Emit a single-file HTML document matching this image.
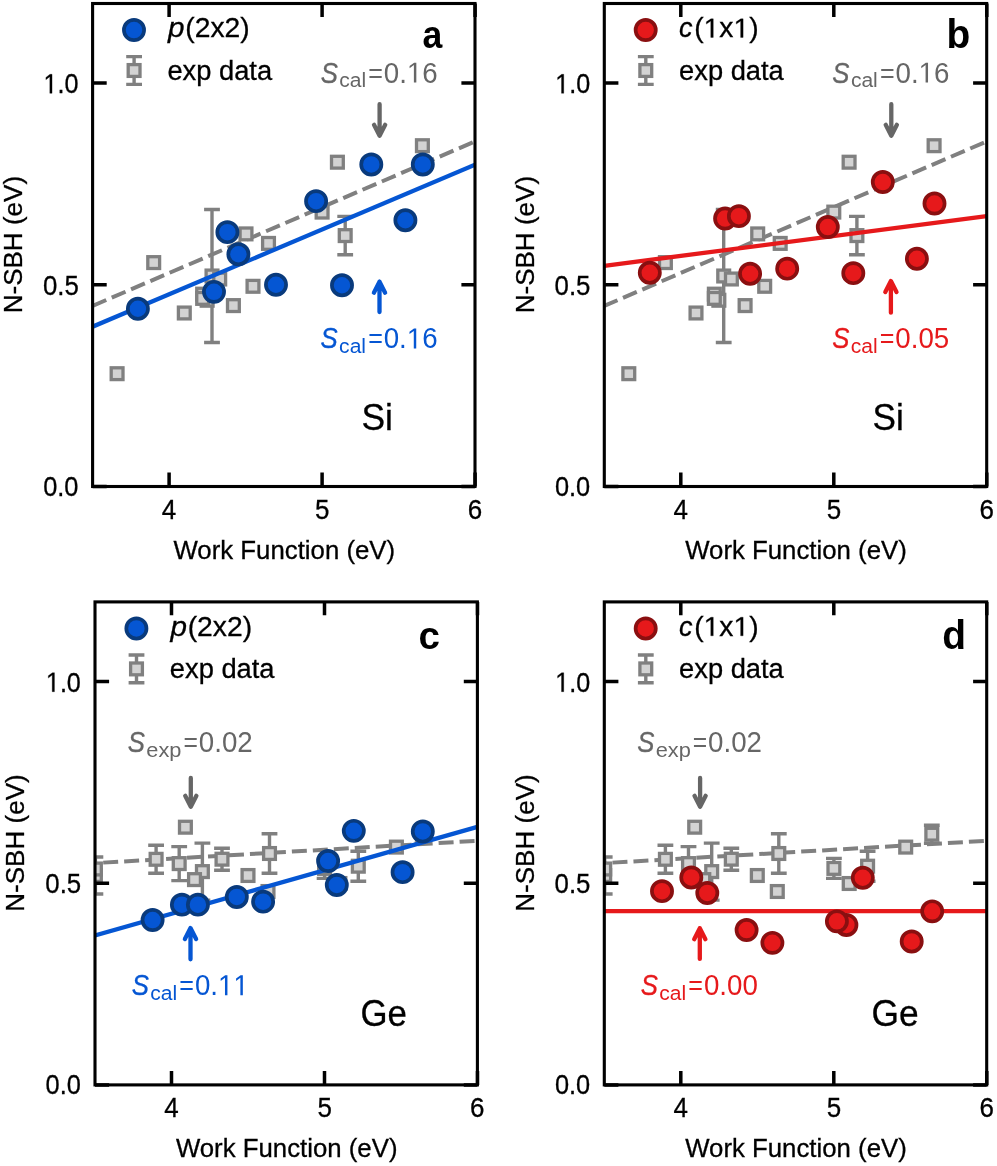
<!DOCTYPE html><html><head><meta charset="utf-8"><style>html,body{margin:0;padding:0;background:#fff;}svg{display:block;will-change:transform;}text{font-family:"Liberation Sans",sans-serif;}</style></head><body>
<svg width="997" height="1166" viewBox="0 0 997 1166">
<defs><clipPath id="clip"><rect x="0" y="0" width="382.4" height="483.0"/></clipPath></defs>
<rect width="997" height="1166" fill="#fff"/>
<g transform="translate(92.6,3.5)">
<g clip-path="url(#clip)">
<line x1="0" y1="302.4" x2="382.4" y2="137.9" stroke="#808080" stroke-width="4.0" stroke-dasharray="15.0 6.0" stroke-dashoffset="0.15"/>
<path d="M119.40 206.00V339.00M111.50 206.00H127.30M111.50 339.00H127.30" stroke="#808080" stroke-width="3.4" fill="none"/>
<path d="M252.60 212.90V251.30M244.70 212.90H260.50M244.70 251.30H260.50" stroke="#808080" stroke-width="3.4" fill="none"/>
<rect x="18.60" y="364.30" width="11.8" height="11.8" fill="#d3d3d3" stroke="#808080" stroke-width="3.3"/>
<rect x="55.20" y="253.20" width="11.8" height="11.8" fill="#d3d3d3" stroke="#808080" stroke-width="3.3"/>
<rect x="85.80" y="303.60" width="11.8" height="11.8" fill="#d3d3d3" stroke="#808080" stroke-width="3.3"/>
<rect x="104.15" y="284.75" width="11.8" height="11.8" fill="#d3d3d3" stroke="#808080" stroke-width="3.3"/>
<rect x="108.65" y="290.85" width="11.8" height="11.8" fill="#d3d3d3" stroke="#808080" stroke-width="3.3"/>
<rect x="104.15" y="289.00" width="11.8" height="11.8" fill="#d3d3d3" stroke="#808080" stroke-width="3.3"/>
<rect x="113.50" y="266.60" width="11.8" height="11.8" fill="#d3d3d3" stroke="#808080" stroke-width="3.3"/>
<rect x="121.20" y="269.60" width="11.8" height="11.8" fill="#d3d3d3" stroke="#808080" stroke-width="3.3"/>
<rect x="134.90" y="296.20" width="11.8" height="11.8" fill="#d3d3d3" stroke="#808080" stroke-width="3.3"/>
<rect x="147.50" y="224.50" width="11.8" height="11.8" fill="#d3d3d3" stroke="#808080" stroke-width="3.3"/>
<rect x="154.50" y="276.90" width="11.8" height="11.8" fill="#d3d3d3" stroke="#808080" stroke-width="3.3"/>
<rect x="170.00" y="234.00" width="11.8" height="11.8" fill="#d3d3d3" stroke="#808080" stroke-width="3.3"/>
<rect x="223.60" y="202.70" width="11.8" height="11.8" fill="#d3d3d3" stroke="#808080" stroke-width="3.3"/>
<rect x="238.90" y="152.80" width="11.8" height="11.8" fill="#d3d3d3" stroke="#808080" stroke-width="3.3"/>
<rect x="246.70" y="226.20" width="11.8" height="11.8" fill="#d3d3d3" stroke="#808080" stroke-width="3.3"/>
<rect x="323.90" y="136.30" width="11.8" height="11.8" fill="#d3d3d3" stroke="#808080" stroke-width="3.3"/>
<line x1="0" y1="323.2" x2="382.4" y2="161.2" stroke="#0556d3" stroke-width="4.3"/>
<circle cx="45.30" cy="305.25" r="10.1" fill="#0556d3" stroke="#093a7c" stroke-width="3.7"/>
<circle cx="121.40" cy="288.35" r="10.1" fill="#0556d3" stroke="#093a7c" stroke-width="3.7"/>
<circle cx="134.80" cy="228.65" r="10.1" fill="#0556d3" stroke="#093a7c" stroke-width="3.7"/>
<circle cx="145.80" cy="250.75" r="10.1" fill="#0556d3" stroke="#093a7c" stroke-width="3.7"/>
<circle cx="183.40" cy="281.25" r="10.1" fill="#0556d3" stroke="#093a7c" stroke-width="3.7"/>
<circle cx="223.50" cy="197.65" r="10.1" fill="#0556d3" stroke="#093a7c" stroke-width="3.7"/>
<circle cx="249.40" cy="281.75" r="10.1" fill="#0556d3" stroke="#093a7c" stroke-width="3.7"/>
<circle cx="278.70" cy="160.95" r="10.1" fill="#0556d3" stroke="#093a7c" stroke-width="3.7"/>
<circle cx="312.80" cy="216.75" r="10.1" fill="#0556d3" stroke="#093a7c" stroke-width="3.7"/>
<circle cx="330.20" cy="160.95" r="10.1" fill="#0556d3" stroke="#093a7c" stroke-width="3.7"/>
</g>
<path d="M0 483.00H14.1M382.4 483.00H368.80M0 281.25H14.1M382.4 281.25H368.80M0 79.50H14.1M382.4 79.50H368.80M76.50 483.0V469.10M76.50 0V13.4M229.50 483.0V469.10M229.50 0V13.4M382.50 483.0V469.10M382.50 0V13.4" stroke="#000" stroke-width="3.5" fill="none"/>
<rect x="0" y="0" width="382.4" height="483.0" fill="none" stroke="#000" stroke-width="3.1"/>
<circle cx="41.40" cy="26.55" r="10.1" fill="#0556d3" stroke="#093a7c" stroke-width="3.7"/>
<path d="M41.50 53.10V80.90M33.60 53.10H49.40M33.60 80.90H49.40" stroke="#808080" stroke-width="3.4" fill="none"/><rect x="35.60" y="61.10" width="11.8" height="11.8" fill="#d3d3d3" stroke="#808080" stroke-width="3.3"/>
</g>
<path transform="translate(43.48 93.30) scale(0.01230 -0.01348)" d="M515 0L515 1237L197 1010L197 1180L530 1409L696 1409L696 0Z" fill="#000" stroke="#000" stroke-width="0.3" vector-effect="non-scaling-stroke"/><text x="57.48" y="93.30" font-size="27.6" fill="#000" textLength="21.00" lengthAdjust="spacingAndGlyphs" stroke="#000" stroke-width="0.3">.0</text>
<text x="42.89" y="294.90" font-size="27.6" fill="#000" textLength="35.89" lengthAdjust="spacingAndGlyphs" stroke="#000" stroke-width="0.3">0.5</text>
<text x="43.21" y="496.00" font-size="27.6" fill="#000" textLength="35.28" lengthAdjust="spacingAndGlyphs" stroke="#000" stroke-width="0.3">0.0</text>
<text x="161.85" y="519.00" font-size="27.6" fill="#000" textLength="14.46" lengthAdjust="spacingAndGlyphs" stroke="#000" stroke-width="0.3">4</text>
<text x="315.00" y="519.00" font-size="27.6" fill="#000" textLength="14.46" lengthAdjust="spacingAndGlyphs" stroke="#000" stroke-width="0.3">5</text>
<text x="467.68" y="519.00" font-size="27.6" fill="#000" textLength="14.46" lengthAdjust="spacingAndGlyphs" stroke="#000" stroke-width="0.3">6</text>
<text x="173.49" y="558.80" font-size="26" fill="#000" textLength="221.61" lengthAdjust="spacingAndGlyphs" stroke="#000" stroke-width="0.3">Work Function (eV)</text>
<text x="168.14" y="37.40" font-size="27" font-style="italic" fill="#000" textLength="16.52" lengthAdjust="spacingAndGlyphs" stroke="#000" stroke-width="0.3">p</text>
<text x="185.25" y="37.40" font-size="27" fill="#000" textLength="64.41" lengthAdjust="spacingAndGlyphs" stroke="#000" stroke-width="0.3">(2x2)</text>
<text x="167.44" y="79.70" font-size="27" fill="#000" textLength="104.66" lengthAdjust="spacingAndGlyphs" stroke="#000" stroke-width="0.3">exp data</text>
<text x="422.46" y="47.90" font-size="39" font-weight="bold" fill="#000" textLength="19.82" lengthAdjust="spacingAndGlyphs">a</text>
<text transform="translate(22.00,313.34) rotate(-90)" x="0" y="0" font-size="26" fill="#000" textLength="137.45" lengthAdjust="spacingAndGlyphs" stroke="#000" stroke-width="0.3">N-SBH (eV)</text>
<text x="320.67" y="82.60" font-size="30" font-style="italic" fill="#666666" textLength="17.21" lengthAdjust="spacingAndGlyphs" stroke="#666666" stroke-width="0.35">S</text>
<text x="339.21" y="87.20" font-size="20" fill="#666666" textLength="26.90" lengthAdjust="spacingAndGlyphs">cal</text>
<text x="368.27" y="82.60" font-size="27.5" fill="#666666" textLength="14.66" lengthAdjust="spacingAndGlyphs">=</text>
<text x="383.82" y="82.60" font-size="29" fill="#666666" textLength="23.10" lengthAdjust="spacingAndGlyphs">0.</text><path transform="translate(406.92 82.60) scale(0.01352 -0.01416)" d="M515 0L515 1237L197 1010L197 1180L530 1409L696 1409L696 0Z" fill="#666666"/><text x="422.32" y="82.60" font-size="29" fill="#666666" textLength="15.40" lengthAdjust="spacingAndGlyphs">6</text>
<path d="M379.60 104.20V135.80M374.00 124.80L379.60 135.80L385.20 124.80" stroke="#666666" stroke-width="4.3" fill="none" stroke-linecap="round" stroke-linejoin="round"/>
<text x="320.57" y="348.40" font-size="30" font-style="italic" fill="#0556d3" textLength="17.21" lengthAdjust="spacingAndGlyphs" stroke="#0556d3" stroke-width="0.35">S</text>
<text x="339.11" y="353.00" font-size="20" fill="#0556d3" textLength="26.90" lengthAdjust="spacingAndGlyphs">cal</text>
<text x="368.17" y="348.40" font-size="27.5" fill="#0556d3" textLength="14.66" lengthAdjust="spacingAndGlyphs">=</text>
<text x="383.72" y="348.40" font-size="29" fill="#0556d3" textLength="23.10" lengthAdjust="spacingAndGlyphs">0.</text><path transform="translate(406.82 348.40) scale(0.01352 -0.01416)" d="M515 0L515 1237L197 1010L197 1180L530 1409L696 1409L696 0Z" fill="#0556d3"/><text x="422.22" y="348.40" font-size="29" fill="#0556d3" textLength="15.40" lengthAdjust="spacingAndGlyphs">6</text>
<path d="M379.50 312.10V281.70M373.90 292.70L379.50 281.70L385.10 292.70" stroke="#0556d3" stroke-width="4.3" fill="none" stroke-linecap="round" stroke-linejoin="round"/>
<text x="361.39" y="429.80" font-size="36.3" fill="#000" textLength="31.50" lengthAdjust="spacingAndGlyphs" stroke="#000" stroke-width="0.3">Si</text>
<g transform="translate(604.3,3.5)">
<g clip-path="url(#clip)">
<line x1="0" y1="302.4" x2="382.4" y2="137.9" stroke="#808080" stroke-width="4.0" stroke-dasharray="15.0 6.0" stroke-dashoffset="0.64"/>
<path d="M119.40 206.00V339.00M111.50 206.00H127.30M111.50 339.00H127.30" stroke="#808080" stroke-width="3.4" fill="none"/>
<path d="M252.60 212.90V251.30M244.70 212.90H260.50M244.70 251.30H260.50" stroke="#808080" stroke-width="3.4" fill="none"/>
<rect x="18.60" y="364.30" width="11.8" height="11.8" fill="#d3d3d3" stroke="#808080" stroke-width="3.3"/>
<rect x="55.20" y="253.20" width="11.8" height="11.8" fill="#d3d3d3" stroke="#808080" stroke-width="3.3"/>
<rect x="85.80" y="303.60" width="11.8" height="11.8" fill="#d3d3d3" stroke="#808080" stroke-width="3.3"/>
<rect x="104.15" y="284.75" width="11.8" height="11.8" fill="#d3d3d3" stroke="#808080" stroke-width="3.3"/>
<rect x="108.65" y="290.85" width="11.8" height="11.8" fill="#d3d3d3" stroke="#808080" stroke-width="3.3"/>
<rect x="104.15" y="289.00" width="11.8" height="11.8" fill="#d3d3d3" stroke="#808080" stroke-width="3.3"/>
<rect x="113.50" y="266.60" width="11.8" height="11.8" fill="#d3d3d3" stroke="#808080" stroke-width="3.3"/>
<rect x="121.20" y="269.60" width="11.8" height="11.8" fill="#d3d3d3" stroke="#808080" stroke-width="3.3"/>
<rect x="134.90" y="296.20" width="11.8" height="11.8" fill="#d3d3d3" stroke="#808080" stroke-width="3.3"/>
<rect x="147.50" y="224.50" width="11.8" height="11.8" fill="#d3d3d3" stroke="#808080" stroke-width="3.3"/>
<rect x="154.50" y="276.90" width="11.8" height="11.8" fill="#d3d3d3" stroke="#808080" stroke-width="3.3"/>
<rect x="170.00" y="234.00" width="11.8" height="11.8" fill="#d3d3d3" stroke="#808080" stroke-width="3.3"/>
<rect x="223.60" y="202.70" width="11.8" height="11.8" fill="#d3d3d3" stroke="#808080" stroke-width="3.3"/>
<rect x="238.90" y="152.80" width="11.8" height="11.8" fill="#d3d3d3" stroke="#808080" stroke-width="3.3"/>
<rect x="246.70" y="226.20" width="11.8" height="11.8" fill="#d3d3d3" stroke="#808080" stroke-width="3.3"/>
<rect x="323.90" y="136.30" width="11.8" height="11.8" fill="#d3d3d3" stroke="#808080" stroke-width="3.3"/>
<line x1="0" y1="262.3" x2="382.4" y2="212.6" stroke="#e6191b" stroke-width="4.3"/>
<circle cx="45.50" cy="269.25" r="10.1" fill="#e6191b" stroke="#8a0f10" stroke-width="3.7"/>
<circle cx="120.80" cy="215.05" r="10.1" fill="#e6191b" stroke="#8a0f10" stroke-width="3.7"/>
<circle cx="134.60" cy="212.65" r="10.1" fill="#e6191b" stroke="#8a0f10" stroke-width="3.7"/>
<circle cx="145.80" cy="270.25" r="10.1" fill="#e6191b" stroke="#8a0f10" stroke-width="3.7"/>
<circle cx="182.90" cy="265.15" r="10.1" fill="#e6191b" stroke="#8a0f10" stroke-width="3.7"/>
<circle cx="223.50" cy="223.55" r="10.1" fill="#e6191b" stroke="#8a0f10" stroke-width="3.7"/>
<circle cx="249.00" cy="269.65" r="10.1" fill="#e6191b" stroke="#8a0f10" stroke-width="3.7"/>
<circle cx="278.50" cy="178.55" r="10.1" fill="#e6191b" stroke="#8a0f10" stroke-width="3.7"/>
<circle cx="312.60" cy="255.25" r="10.1" fill="#e6191b" stroke="#8a0f10" stroke-width="3.7"/>
<circle cx="330.20" cy="200.05" r="10.1" fill="#e6191b" stroke="#8a0f10" stroke-width="3.7"/>
</g>
<path d="M0 483.00H14.1M382.4 483.00H368.80M0 281.25H14.1M382.4 281.25H368.80M0 79.50H14.1M382.4 79.50H368.80M76.50 483.0V469.10M76.50 0V13.4M229.50 483.0V469.10M229.50 0V13.4M382.50 483.0V469.10M382.50 0V13.4" stroke="#000" stroke-width="3.5" fill="none"/>
<rect x="0" y="0" width="382.4" height="483.0" fill="none" stroke="#000" stroke-width="3.1"/>
<circle cx="41.40" cy="26.55" r="10.1" fill="#e6191b" stroke="#8a0f10" stroke-width="3.7"/>
<path d="M41.50 53.10V80.90M33.60 53.10H49.40M33.60 80.90H49.40" stroke="#808080" stroke-width="3.4" fill="none"/><rect x="35.60" y="61.10" width="11.8" height="11.8" fill="#d3d3d3" stroke="#808080" stroke-width="3.3"/>
</g>
<path transform="translate(555.18 93.30) scale(0.01230 -0.01348)" d="M515 0L515 1237L197 1010L197 1180L530 1409L696 1409L696 0Z" fill="#000" stroke="#000" stroke-width="0.3" vector-effect="non-scaling-stroke"/><text x="569.18" y="93.30" font-size="27.6" fill="#000" textLength="21.00" lengthAdjust="spacingAndGlyphs" stroke="#000" stroke-width="0.3">.0</text>
<text x="554.59" y="294.90" font-size="27.6" fill="#000" textLength="35.89" lengthAdjust="spacingAndGlyphs" stroke="#000" stroke-width="0.3">0.5</text>
<text x="554.91" y="496.00" font-size="27.6" fill="#000" textLength="35.28" lengthAdjust="spacingAndGlyphs" stroke="#000" stroke-width="0.3">0.0</text>
<text x="673.55" y="519.00" font-size="27.6" fill="#000" textLength="14.46" lengthAdjust="spacingAndGlyphs" stroke="#000" stroke-width="0.3">4</text>
<text x="826.70" y="519.00" font-size="27.6" fill="#000" textLength="14.46" lengthAdjust="spacingAndGlyphs" stroke="#000" stroke-width="0.3">5</text>
<text x="979.38" y="519.00" font-size="27.6" fill="#000" textLength="14.46" lengthAdjust="spacingAndGlyphs" stroke="#000" stroke-width="0.3">6</text>
<text x="685.19" y="558.80" font-size="26" fill="#000" textLength="221.61" lengthAdjust="spacingAndGlyphs" stroke="#000" stroke-width="0.3">Work Function (eV)</text>
<text x="679.02" y="37.40" font-size="27" font-style="italic" fill="#000" textLength="13.49" lengthAdjust="spacingAndGlyphs" stroke="#000" stroke-width="0.3">c</text>
<text x="694.25" y="37.40" font-size="27" fill="#000" textLength="9.41" lengthAdjust="spacingAndGlyphs" stroke="#000" stroke-width="0.3">(</text><path transform="translate(703.66 37.40) scale(0.01380 -0.01318)" d="M515 0L515 1237L197 1010L197 1180L530 1409L696 1409L696 0Z" fill="#000" stroke="#000" stroke-width="0.3" vector-effect="non-scaling-stroke"/><text x="719.38" y="37.40" font-size="27" fill="#000" textLength="14.13" lengthAdjust="spacingAndGlyphs" stroke="#000" stroke-width="0.3">x</text><path transform="translate(733.52 37.40) scale(0.01380 -0.01318)" d="M515 0L515 1237L197 1010L197 1180L530 1409L696 1409L696 0Z" fill="#000" stroke="#000" stroke-width="0.3" vector-effect="non-scaling-stroke"/><text x="749.24" y="37.40" font-size="27" fill="#000" textLength="9.41" lengthAdjust="spacingAndGlyphs" stroke="#000" stroke-width="0.3">)</text>
<text x="679.14" y="79.70" font-size="27" fill="#000" textLength="104.66" lengthAdjust="spacingAndGlyphs" stroke="#000" stroke-width="0.3">exp data</text>
<text x="946.44" y="47.60" font-size="40" font-weight="bold" fill="#000" textLength="23.76" lengthAdjust="spacingAndGlyphs">b</text>
<text transform="translate(533.70,313.34) rotate(-90)" x="0" y="0" font-size="26" fill="#000" textLength="137.45" lengthAdjust="spacingAndGlyphs" stroke="#000" stroke-width="0.3">N-SBH (eV)</text>
<text x="832.37" y="82.60" font-size="30" font-style="italic" fill="#666666" textLength="17.21" lengthAdjust="spacingAndGlyphs" stroke="#666666" stroke-width="0.35">S</text>
<text x="850.91" y="87.20" font-size="20" fill="#666666" textLength="26.90" lengthAdjust="spacingAndGlyphs">cal</text>
<text x="879.97" y="82.60" font-size="27.5" fill="#666666" textLength="14.66" lengthAdjust="spacingAndGlyphs">=</text>
<text x="895.52" y="82.60" font-size="29" fill="#666666" textLength="23.10" lengthAdjust="spacingAndGlyphs">0.</text><path transform="translate(918.62 82.60) scale(0.01352 -0.01416)" d="M515 0L515 1237L197 1010L197 1180L530 1409L696 1409L696 0Z" fill="#666666"/><text x="934.02" y="82.60" font-size="29" fill="#666666" textLength="15.40" lengthAdjust="spacingAndGlyphs">6</text>
<path d="M891.30 104.20V135.80M885.70 124.80L891.30 135.80L896.90 124.80" stroke="#666666" stroke-width="4.3" fill="none" stroke-linecap="round" stroke-linejoin="round"/>
<text x="832.17" y="348.40" font-size="30" font-style="italic" fill="#e6191b" textLength="17.21" lengthAdjust="spacingAndGlyphs" stroke="#e6191b" stroke-width="0.35">S</text>
<text x="850.71" y="353.00" font-size="20" fill="#e6191b" textLength="26.90" lengthAdjust="spacingAndGlyphs">cal</text>
<text x="879.77" y="348.40" font-size="27.5" fill="#e6191b" textLength="14.66" lengthAdjust="spacingAndGlyphs">=</text>
<text x="895.32" y="348.40" font-size="29" fill="#e6191b" textLength="53.90" lengthAdjust="spacingAndGlyphs">0.05</text>
<path d="M890.90 312.70V281.10M885.30 292.10L890.90 281.10L896.50 292.10" stroke="#e6191b" stroke-width="4.3" fill="none" stroke-linecap="round" stroke-linejoin="round"/>
<text x="872.50" y="429.50" font-size="36.3" fill="#000" textLength="31.27" lengthAdjust="spacingAndGlyphs" stroke="#000" stroke-width="0.3">Si</text>
<g transform="translate(95.0,601.9)">
<g clip-path="url(#clip)">
<line x1="0" y1="261.2" x2="382.4" y2="238.9" stroke="#808080" stroke-width="4.0" stroke-dasharray="15.0 6.0" stroke-dashoffset="-8.2"/>
<path d="M0.40 255.10V292.10M-7.50 255.10H8.30M-7.50 292.10H8.30" stroke="#808080" stroke-width="3.4" fill="none"/>
<path d="M61.10 243.40V271.40M53.20 243.40H69.00M53.20 271.40H69.00" stroke="#808080" stroke-width="3.4" fill="none"/>
<path d="M84.20 244.70V278.70M76.30 244.70H92.10M76.30 278.70H92.10" stroke="#808080" stroke-width="3.4" fill="none"/>
<path d="M107.40 241.20V298.20M99.50 241.20H115.30M99.50 298.20H115.30" stroke="#808080" stroke-width="3.4" fill="none"/>
<path d="M127.00 246.30V268.30M119.10 246.30H134.90M119.10 268.30H134.90" stroke="#808080" stroke-width="3.4" fill="none"/>
<path d="M174.50 231.90V271.30M166.60 231.90H182.40M166.60 271.30H182.40" stroke="#808080" stroke-width="3.4" fill="none"/>
<path d="M229.60 256.50V276.50M221.70 256.50H237.50M221.70 276.50H237.50" stroke="#808080" stroke-width="3.4" fill="none"/>
<path d="M263.30 249.30V279.30M255.40 249.30H271.20M255.40 279.30H271.20" stroke="#808080" stroke-width="3.4" fill="none"/>
<path d="M327.50 223.30V241.30M319.60 223.30H335.40M319.60 241.30H335.40" stroke="#808080" stroke-width="3.4" fill="none"/>
<rect x="-5.50" y="267.70" width="11.8" height="11.8" fill="#d3d3d3" stroke="#808080" stroke-width="3.3"/>
<rect x="-5.50" y="261.20" width="11.8" height="11.8" fill="#d3d3d3" stroke="#808080" stroke-width="3.3"/>
<rect x="55.20" y="251.50" width="11.8" height="11.8" fill="#d3d3d3" stroke="#808080" stroke-width="3.3"/>
<rect x="78.30" y="255.80" width="11.8" height="11.8" fill="#d3d3d3" stroke="#808080" stroke-width="3.3"/>
<rect x="84.50" y="219.40" width="11.8" height="11.8" fill="#d3d3d3" stroke="#808080" stroke-width="3.3"/>
<rect x="101.50" y="263.80" width="11.8" height="11.8" fill="#d3d3d3" stroke="#808080" stroke-width="3.3"/>
<rect x="93.60" y="271.80" width="11.8" height="11.8" fill="#d3d3d3" stroke="#808080" stroke-width="3.3"/>
<rect x="121.10" y="251.40" width="11.8" height="11.8" fill="#d3d3d3" stroke="#808080" stroke-width="3.3"/>
<rect x="147.10" y="267.70" width="11.8" height="11.8" fill="#d3d3d3" stroke="#808080" stroke-width="3.3"/>
<rect x="168.60" y="245.70" width="11.8" height="11.8" fill="#d3d3d3" stroke="#808080" stroke-width="3.3"/>
<rect x="167.10" y="283.70" width="11.8" height="11.8" fill="#d3d3d3" stroke="#808080" stroke-width="3.3"/>
<rect x="223.70" y="260.60" width="11.8" height="11.8" fill="#d3d3d3" stroke="#808080" stroke-width="3.3"/>
<rect x="239.00" y="275.70" width="11.8" height="11.8" fill="#d3d3d3" stroke="#808080" stroke-width="3.3"/>
<rect x="257.40" y="258.40" width="11.8" height="11.8" fill="#d3d3d3" stroke="#808080" stroke-width="3.3"/>
<rect x="295.50" y="239.30" width="11.8" height="11.8" fill="#d3d3d3" stroke="#808080" stroke-width="3.3"/>
<rect x="321.60" y="226.40" width="11.8" height="11.8" fill="#d3d3d3" stroke="#808080" stroke-width="3.3"/>
<line x1="0" y1="333.5" x2="382.4" y2="225.0" stroke="#0556d3" stroke-width="4.3"/>
<circle cx="57.60" cy="318.15" r="10.1" fill="#0556d3" stroke="#093a7c" stroke-width="3.7"/>
<circle cx="86.90" cy="302.75" r="10.1" fill="#0556d3" stroke="#093a7c" stroke-width="3.7"/>
<circle cx="102.90" cy="302.75" r="10.1" fill="#0556d3" stroke="#093a7c" stroke-width="3.7"/>
<circle cx="141.80" cy="295.05" r="10.1" fill="#0556d3" stroke="#093a7c" stroke-width="3.7"/>
<circle cx="168.10" cy="299.75" r="10.1" fill="#0556d3" stroke="#093a7c" stroke-width="3.7"/>
<circle cx="233.10" cy="259.15" r="10.1" fill="#0556d3" stroke="#093a7c" stroke-width="3.7"/>
<circle cx="241.80" cy="283.05" r="10.1" fill="#0556d3" stroke="#093a7c" stroke-width="3.7"/>
<circle cx="258.80" cy="228.95" r="10.1" fill="#0556d3" stroke="#093a7c" stroke-width="3.7"/>
<circle cx="307.60" cy="270.25" r="10.1" fill="#0556d3" stroke="#093a7c" stroke-width="3.7"/>
<circle cx="327.80" cy="229.55" r="10.1" fill="#0556d3" stroke="#093a7c" stroke-width="3.7"/>
</g>
<path d="M0 483.00H14.1M382.4 483.00H368.80M0 281.25H14.1M382.4 281.25H368.80M0 79.50H14.1M382.4 79.50H368.80M76.50 483.0V469.10M76.50 0V13.4M229.50 483.0V469.10M229.50 0V13.4M382.50 483.0V469.10M382.50 0V13.4" stroke="#000" stroke-width="3.5" fill="none"/>
<rect x="0" y="0" width="382.4" height="483.0" fill="none" stroke="#000" stroke-width="3.1"/>
<circle cx="41.40" cy="26.55" r="10.1" fill="#0556d3" stroke="#093a7c" stroke-width="3.7"/>
<path d="M41.50 53.10V80.90M33.60 53.10H49.40M33.60 80.90H49.40" stroke="#808080" stroke-width="3.4" fill="none"/><rect x="35.60" y="61.10" width="11.8" height="11.8" fill="#d3d3d3" stroke="#808080" stroke-width="3.3"/>
</g>
<path transform="translate(45.88 691.70) scale(0.01230 -0.01348)" d="M515 0L515 1237L197 1010L197 1180L530 1409L696 1409L696 0Z" fill="#000" stroke="#000" stroke-width="0.3" vector-effect="non-scaling-stroke"/><text x="59.88" y="691.70" font-size="27.6" fill="#000" textLength="21.00" lengthAdjust="spacingAndGlyphs" stroke="#000" stroke-width="0.3">.0</text>
<text x="45.29" y="893.30" font-size="27.6" fill="#000" textLength="35.89" lengthAdjust="spacingAndGlyphs" stroke="#000" stroke-width="0.3">0.5</text>
<text x="45.61" y="1094.40" font-size="27.6" fill="#000" textLength="35.28" lengthAdjust="spacingAndGlyphs" stroke="#000" stroke-width="0.3">0.0</text>
<text x="164.25" y="1117.40" font-size="27.6" fill="#000" textLength="14.46" lengthAdjust="spacingAndGlyphs" stroke="#000" stroke-width="0.3">4</text>
<text x="317.40" y="1117.40" font-size="27.6" fill="#000" textLength="14.46" lengthAdjust="spacingAndGlyphs" stroke="#000" stroke-width="0.3">5</text>
<text x="470.08" y="1117.40" font-size="27.6" fill="#000" textLength="14.46" lengthAdjust="spacingAndGlyphs" stroke="#000" stroke-width="0.3">6</text>
<text x="175.89" y="1157.20" font-size="26" fill="#000" textLength="221.61" lengthAdjust="spacingAndGlyphs" stroke="#000" stroke-width="0.3">Work Function (eV)</text>
<text x="170.54" y="635.80" font-size="27" font-style="italic" fill="#000" textLength="16.52" lengthAdjust="spacingAndGlyphs" stroke="#000" stroke-width="0.3">p</text>
<text x="187.65" y="635.80" font-size="27" fill="#000" textLength="64.41" lengthAdjust="spacingAndGlyphs" stroke="#000" stroke-width="0.3">(2x2)</text>
<text x="169.84" y="678.10" font-size="27" fill="#000" textLength="104.66" lengthAdjust="spacingAndGlyphs" stroke="#000" stroke-width="0.3">exp data</text>
<text x="418.49" y="648.90" font-size="39" font-weight="bold" fill="#000" textLength="21.43" lengthAdjust="spacingAndGlyphs">c</text>
<text transform="translate(24.40,911.74) rotate(-90)" x="0" y="0" font-size="26" fill="#000" textLength="137.45" lengthAdjust="spacingAndGlyphs" stroke="#000" stroke-width="0.3">N-SBH (eV)</text>
<text x="127.87" y="752.10" font-size="30" font-style="italic" fill="#666666" textLength="17.21" lengthAdjust="spacingAndGlyphs" stroke="#666666" stroke-width="0.35">S</text>
<text x="146.37" y="756.70" font-size="20.5" fill="#666666" textLength="35.14" lengthAdjust="spacingAndGlyphs">exp</text>
<text x="183.39" y="752.10" font-size="27.5" fill="#666666" textLength="14.42" lengthAdjust="spacingAndGlyphs">=</text>
<text x="198.82" y="752.10" font-size="29" fill="#666666" textLength="53.90" lengthAdjust="spacingAndGlyphs">0.02</text>
<path d="M190.80 777.90V806.80M185.20 795.80L190.80 806.80L196.40 795.80" stroke="#666666" stroke-width="4.3" fill="none" stroke-linecap="round" stroke-linejoin="round"/>
<text x="131.77" y="995.30" font-size="30" font-style="italic" fill="#0556d3" textLength="17.21" lengthAdjust="spacingAndGlyphs" stroke="#0556d3" stroke-width="0.35">S</text>
<text x="150.31" y="999.90" font-size="20" fill="#0556d3" textLength="26.90" lengthAdjust="spacingAndGlyphs">cal</text>
<text x="179.37" y="995.30" font-size="27.5" fill="#0556d3" textLength="14.66" lengthAdjust="spacingAndGlyphs">=</text>
<text x="194.92" y="995.30" font-size="29" fill="#0556d3" textLength="23.10" lengthAdjust="spacingAndGlyphs">0.</text><path transform="translate(218.02 995.30) scale(0.01352 -0.01416)" d="M515 0L515 1237L197 1010L197 1180L530 1409L696 1409L696 0Z" fill="#0556d3"/><path transform="translate(233.42 995.30) scale(0.01352 -0.01416)" d="M515 0L515 1237L197 1010L197 1180L530 1409L696 1409L696 0Z" fill="#0556d3"/>
<path d="M190.50 959.30V928.10M184.90 939.10L190.50 928.10L196.10 939.10" stroke="#0556d3" stroke-width="4.3" fill="none" stroke-linecap="round" stroke-linejoin="round"/>
<text x="360.55" y="1026.40" font-size="36.0" fill="#000" textLength="46.39" lengthAdjust="spacingAndGlyphs" stroke="#000" stroke-width="0.3">Ge</text>
<g transform="translate(604.3,601.9)">
<g clip-path="url(#clip)">
<line x1="0" y1="261.2" x2="382.4" y2="238.9" stroke="#808080" stroke-width="4.0" stroke-dasharray="15.0 6.0" stroke-dashoffset="-8.2"/>
<path d="M0.40 255.10V292.10M-7.50 255.10H8.30M-7.50 292.10H8.30" stroke="#808080" stroke-width="3.4" fill="none"/>
<path d="M61.10 243.40V271.40M53.20 243.40H69.00M53.20 271.40H69.00" stroke="#808080" stroke-width="3.4" fill="none"/>
<path d="M84.20 244.70V278.70M76.30 244.70H92.10M76.30 278.70H92.10" stroke="#808080" stroke-width="3.4" fill="none"/>
<path d="M107.40 241.20V298.20M99.50 241.20H115.30M99.50 298.20H115.30" stroke="#808080" stroke-width="3.4" fill="none"/>
<path d="M127.00 246.30V268.30M119.10 246.30H134.90M119.10 268.30H134.90" stroke="#808080" stroke-width="3.4" fill="none"/>
<path d="M174.50 231.90V271.30M166.60 231.90H182.40M166.60 271.30H182.40" stroke="#808080" stroke-width="3.4" fill="none"/>
<path d="M229.60 256.50V276.50M221.70 256.50H237.50M221.70 276.50H237.50" stroke="#808080" stroke-width="3.4" fill="none"/>
<path d="M263.30 249.30V279.30M255.40 249.30H271.20M255.40 279.30H271.20" stroke="#808080" stroke-width="3.4" fill="none"/>
<path d="M327.50 223.30V241.30M319.60 223.30H335.40M319.60 241.30H335.40" stroke="#808080" stroke-width="3.4" fill="none"/>
<rect x="-5.50" y="267.70" width="11.8" height="11.8" fill="#d3d3d3" stroke="#808080" stroke-width="3.3"/>
<rect x="-5.50" y="261.20" width="11.8" height="11.8" fill="#d3d3d3" stroke="#808080" stroke-width="3.3"/>
<rect x="55.20" y="251.50" width="11.8" height="11.8" fill="#d3d3d3" stroke="#808080" stroke-width="3.3"/>
<rect x="78.30" y="255.80" width="11.8" height="11.8" fill="#d3d3d3" stroke="#808080" stroke-width="3.3"/>
<rect x="84.50" y="219.40" width="11.8" height="11.8" fill="#d3d3d3" stroke="#808080" stroke-width="3.3"/>
<rect x="101.50" y="263.80" width="11.8" height="11.8" fill="#d3d3d3" stroke="#808080" stroke-width="3.3"/>
<rect x="93.60" y="271.80" width="11.8" height="11.8" fill="#d3d3d3" stroke="#808080" stroke-width="3.3"/>
<rect x="121.10" y="251.40" width="11.8" height="11.8" fill="#d3d3d3" stroke="#808080" stroke-width="3.3"/>
<rect x="147.10" y="267.70" width="11.8" height="11.8" fill="#d3d3d3" stroke="#808080" stroke-width="3.3"/>
<rect x="168.60" y="245.70" width="11.8" height="11.8" fill="#d3d3d3" stroke="#808080" stroke-width="3.3"/>
<rect x="167.10" y="283.70" width="11.8" height="11.8" fill="#d3d3d3" stroke="#808080" stroke-width="3.3"/>
<rect x="223.70" y="260.60" width="11.8" height="11.8" fill="#d3d3d3" stroke="#808080" stroke-width="3.3"/>
<rect x="239.00" y="275.70" width="11.8" height="11.8" fill="#d3d3d3" stroke="#808080" stroke-width="3.3"/>
<rect x="257.40" y="258.40" width="11.8" height="11.8" fill="#d3d3d3" stroke="#808080" stroke-width="3.3"/>
<rect x="295.50" y="239.30" width="11.8" height="11.8" fill="#d3d3d3" stroke="#808080" stroke-width="3.3"/>
<rect x="321.60" y="226.40" width="11.8" height="11.8" fill="#d3d3d3" stroke="#808080" stroke-width="3.3"/>
<line x1="0" y1="309.2" x2="382.4" y2="309.2" stroke="#e6191b" stroke-width="4.3"/>
<circle cx="57.70" cy="289.25" r="10.1" fill="#e6191b" stroke="#8a0f10" stroke-width="3.7"/>
<circle cx="87.00" cy="275.55" r="10.1" fill="#e6191b" stroke="#8a0f10" stroke-width="3.7"/>
<circle cx="103.00" cy="291.05" r="10.1" fill="#e6191b" stroke="#8a0f10" stroke-width="3.7"/>
<circle cx="142.30" cy="328.15" r="10.1" fill="#e6191b" stroke="#8a0f10" stroke-width="3.7"/>
<circle cx="168.10" cy="340.95" r="10.1" fill="#e6191b" stroke="#8a0f10" stroke-width="3.7"/>
<circle cx="242.10" cy="323.05" r="10.1" fill="#e6191b" stroke="#8a0f10" stroke-width="3.7"/>
<circle cx="232.60" cy="319.45" r="10.1" fill="#e6191b" stroke="#8a0f10" stroke-width="3.7"/>
<circle cx="258.50" cy="275.85" r="10.1" fill="#e6191b" stroke="#8a0f10" stroke-width="3.7"/>
<circle cx="307.40" cy="339.55" r="10.1" fill="#e6191b" stroke="#8a0f10" stroke-width="3.7"/>
<circle cx="327.90" cy="309.45" r="10.1" fill="#e6191b" stroke="#8a0f10" stroke-width="3.7"/>
</g>
<path d="M0 483.00H14.1M382.4 483.00H368.80M0 281.25H14.1M382.4 281.25H368.80M0 79.50H14.1M382.4 79.50H368.80M76.50 483.0V469.10M76.50 0V13.4M229.50 483.0V469.10M229.50 0V13.4M382.50 483.0V469.10M382.50 0V13.4" stroke="#000" stroke-width="3.5" fill="none"/>
<rect x="0" y="0" width="382.4" height="483.0" fill="none" stroke="#000" stroke-width="3.1"/>
<circle cx="41.40" cy="26.55" r="10.1" fill="#e6191b" stroke="#8a0f10" stroke-width="3.7"/>
<path d="M41.50 53.10V80.90M33.60 53.10H49.40M33.60 80.90H49.40" stroke="#808080" stroke-width="3.4" fill="none"/><rect x="35.60" y="61.10" width="11.8" height="11.8" fill="#d3d3d3" stroke="#808080" stroke-width="3.3"/>
</g>
<path transform="translate(555.18 691.70) scale(0.01230 -0.01348)" d="M515 0L515 1237L197 1010L197 1180L530 1409L696 1409L696 0Z" fill="#000" stroke="#000" stroke-width="0.3" vector-effect="non-scaling-stroke"/><text x="569.18" y="691.70" font-size="27.6" fill="#000" textLength="21.00" lengthAdjust="spacingAndGlyphs" stroke="#000" stroke-width="0.3">.0</text>
<text x="554.59" y="893.30" font-size="27.6" fill="#000" textLength="35.89" lengthAdjust="spacingAndGlyphs" stroke="#000" stroke-width="0.3">0.5</text>
<text x="554.91" y="1094.40" font-size="27.6" fill="#000" textLength="35.28" lengthAdjust="spacingAndGlyphs" stroke="#000" stroke-width="0.3">0.0</text>
<text x="673.55" y="1117.40" font-size="27.6" fill="#000" textLength="14.46" lengthAdjust="spacingAndGlyphs" stroke="#000" stroke-width="0.3">4</text>
<text x="826.70" y="1117.40" font-size="27.6" fill="#000" textLength="14.46" lengthAdjust="spacingAndGlyphs" stroke="#000" stroke-width="0.3">5</text>
<text x="979.38" y="1117.40" font-size="27.6" fill="#000" textLength="14.46" lengthAdjust="spacingAndGlyphs" stroke="#000" stroke-width="0.3">6</text>
<text x="685.19" y="1157.20" font-size="26" fill="#000" textLength="221.61" lengthAdjust="spacingAndGlyphs" stroke="#000" stroke-width="0.3">Work Function (eV)</text>
<text x="679.02" y="635.80" font-size="27" font-style="italic" fill="#000" textLength="13.49" lengthAdjust="spacingAndGlyphs" stroke="#000" stroke-width="0.3">c</text>
<text x="694.25" y="635.80" font-size="27" fill="#000" textLength="9.41" lengthAdjust="spacingAndGlyphs" stroke="#000" stroke-width="0.3">(</text><path transform="translate(703.66 635.80) scale(0.01380 -0.01318)" d="M515 0L515 1237L197 1010L197 1180L530 1409L696 1409L696 0Z" fill="#000" stroke="#000" stroke-width="0.3" vector-effect="non-scaling-stroke"/><text x="719.38" y="635.80" font-size="27" fill="#000" textLength="14.13" lengthAdjust="spacingAndGlyphs" stroke="#000" stroke-width="0.3">x</text><path transform="translate(733.52 635.80) scale(0.01380 -0.01318)" d="M515 0L515 1237L197 1010L197 1180L530 1409L696 1409L696 0Z" fill="#000" stroke="#000" stroke-width="0.3" vector-effect="non-scaling-stroke"/><text x="749.24" y="635.80" font-size="27" fill="#000" textLength="9.41" lengthAdjust="spacingAndGlyphs" stroke="#000" stroke-width="0.3">)</text>
<text x="679.14" y="678.10" font-size="27" fill="#000" textLength="104.66" lengthAdjust="spacingAndGlyphs" stroke="#000" stroke-width="0.3">exp data</text>
<text x="942.30" y="648.60" font-size="40" font-weight="bold" fill="#000" textLength="23.76" lengthAdjust="spacingAndGlyphs">d</text>
<text transform="translate(533.70,911.74) rotate(-90)" x="0" y="0" font-size="26" fill="#000" textLength="137.45" lengthAdjust="spacingAndGlyphs" stroke="#000" stroke-width="0.3">N-SBH (eV)</text>
<text x="637.17" y="752.10" font-size="30" font-style="italic" fill="#666666" textLength="17.21" lengthAdjust="spacingAndGlyphs" stroke="#666666" stroke-width="0.35">S</text>
<text x="655.67" y="756.70" font-size="20.5" fill="#666666" textLength="35.14" lengthAdjust="spacingAndGlyphs">exp</text>
<text x="692.69" y="752.10" font-size="27.5" fill="#666666" textLength="14.42" lengthAdjust="spacingAndGlyphs">=</text>
<text x="708.12" y="752.10" font-size="29" fill="#666666" textLength="53.90" lengthAdjust="spacingAndGlyphs">0.02</text>
<path d="M700.10 777.90V806.80M694.50 795.80L700.10 806.80L705.70 795.80" stroke="#666666" stroke-width="4.3" fill="none" stroke-linecap="round" stroke-linejoin="round"/>
<text x="640.77" y="995.30" font-size="30" font-style="italic" fill="#e6191b" textLength="17.21" lengthAdjust="spacingAndGlyphs" stroke="#e6191b" stroke-width="0.35">S</text>
<text x="659.31" y="999.90" font-size="20" fill="#e6191b" textLength="26.90" lengthAdjust="spacingAndGlyphs">cal</text>
<text x="688.37" y="995.30" font-size="27.5" fill="#e6191b" textLength="14.66" lengthAdjust="spacingAndGlyphs">=</text>
<text x="703.92" y="995.30" font-size="29" fill="#e6191b" textLength="53.90" lengthAdjust="spacingAndGlyphs">0.00</text>
<path d="M699.80 958.90V928.20M694.20 939.20L699.80 928.20L705.40 939.20" stroke="#e6191b" stroke-width="4.3" fill="none" stroke-linecap="round" stroke-linejoin="round"/>
<text x="871.62" y="1026.40" font-size="36.0" fill="#000" textLength="47.15" lengthAdjust="spacingAndGlyphs" stroke="#000" stroke-width="0.3">Ge</text>
</svg></body></html>
